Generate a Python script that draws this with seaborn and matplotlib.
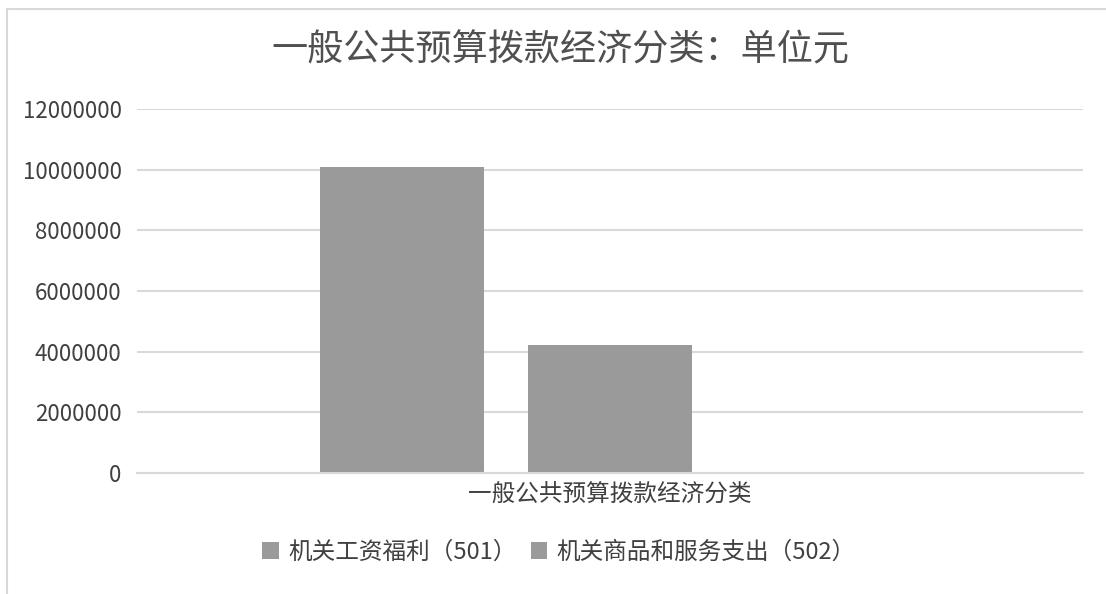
import matplotlib
matplotlib.use("Agg")
import matplotlib.pyplot as plt
import seaborn as sns
import pandas as pd
from matplotlib.lines import Line2D

# data
title = "一般公共预算拨款经济分类：单位元"
category = "一般公共预算拨款经济分类"
series = ["机关工资福利（501）", "机关商品和服务支出（502）"]
values = [10090000, 4220000]
yticks = [0, 2000000, 4000000, 6000000, 8000000, 10000000, 12000000]

sns.set_theme(style="white")
plt.rcParams['font.family'] = ['Noto Sans CJK SC', 'DejaVu Sans']

df = pd.DataFrame({"cat": [category] * len(series), "series": series, "value": values})

fig = plt.figure(figsize=(11.06, 5.94), dpi=100)
ax = fig.add_axes([137 / 1106, 1 - 473 / 594, (1083 - 137) / 1106, (473 - 109) / 594])

bar_gray = "#9a9a9a"
sns.barplot(data=df, x="cat", y="value", hue="series", palette=[bar_gray, bar_gray],
            width=0.8, gap=0.21, saturation=1, ax=ax, errorbar=None)
for p in ax.patches:
    p.set_edgecolor("none")

handles, labels = ax.get_legend_handles_labels()
ax.get_legend().remove()

ax.set_ylim(0, 12000000)
ax.set_yticks(yticks, [str(v) for v in yticks])
ax.set_xlim(-0.71, 1.11)
ax.set_xticks([0.2], [category])
ax.set_xlabel("")
ax.set_ylabel("")
ax.yaxis.grid(True, color="#d9d9d9", lw=1.5)
ax.set_axisbelow(True)
for s in ["left", "right", "top"]:
    ax.spines[s].set_visible(False)
ax.spines["bottom"].set_color("#d9d9d9")
ax.spines["bottom"].set_linewidth(1.5)
ax.tick_params(axis="y", labelsize=16, labelcolor="#404040", length=0, pad=11)
ax.tick_params(axis="x", labelsize=17, labelcolor="#404040", length=0, pad=8)

fig.text(560 / 1106, 1 - 50 / 594, title, ha="center", va="center", fontsize=26, color="#505050")

fig.legend(handles, labels, loc="center", bbox_to_anchor=(559 / 1106, 1 - 552 / 594), ncol=2,
           frameon=False, fontsize=17, handlelength=0.7, handleheight=0.7, handletextpad=0.4,
           columnspacing=0.6, labelcolor="#404040")

# faint chart frame, as in the scan
fig.add_artist(Line2D([7 / 1106, 7 / 1106], [0, 1 - 9 / 594], transform=fig.transFigure, color="#d9d9d9", lw=1.5))
fig.add_artist(Line2D([7 / 1106, 1], [1 - 9 / 594, 1 - 9 / 594], transform=fig.transFigure, color="#d9d9d9", lw=1.5))

fig.savefig("out.png", dpi=100)
